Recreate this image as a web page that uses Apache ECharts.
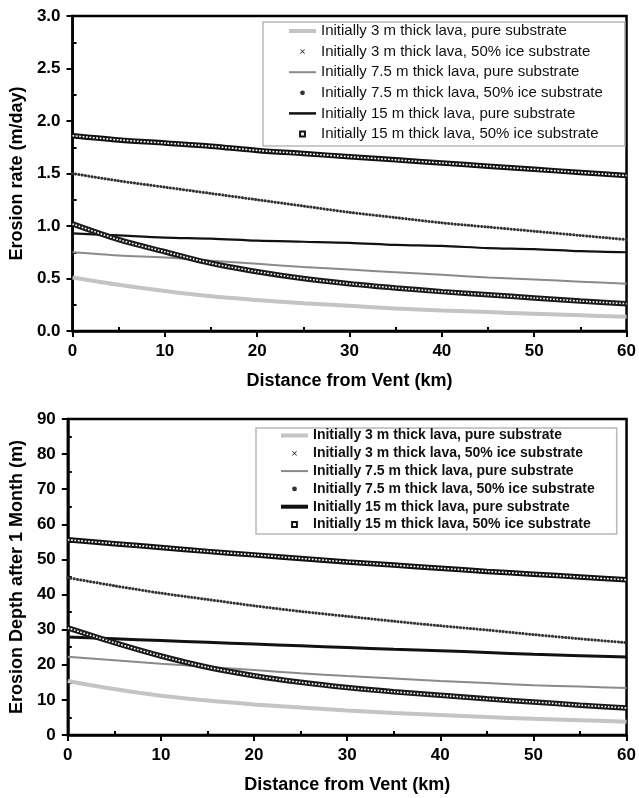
<!DOCTYPE html>
<html>
<head>
<meta charset="utf-8">
<script src="https://cdn.jsdelivr.net/npm/echarts@6/dist/echarts.min.js"></script>
<style>
    html, body { margin: 0; padding: 0; background: #fff; }
    #main { width: 639px; height: 798px; }
</style>
</head>
<body>
<div id="main"></div>
<script>
// ---- data ----
var distance = [0, 5, 10, 15, 20, 25, 30, 35, 40, 45, 50, 55, 60];

var seriesNames = [
    "Initially 3 m thick lava, pure substrate",
    "Initially 3 m thick lava, 50% ice substrate",
    "Initially 7.5 m thick lava, pure substrate",
    "Initially 7.5 m thick lava, 50% ice substrate",
    "Initially 15 m thick lava, pure substrate",
    "Initially 15 m thick lava, 50% ice substrate"
];

// erosion rate (m/day)
var rate3Pure = [0.51, 0.44, 0.38, 0.33, 0.295, 0.265, 0.24, 0.215, 0.195, 0.18, 0.165, 0.15, 0.135];
var rate3Ice = [1.02, 0.87, 0.755, 0.645, 0.565, 0.50, 0.45, 0.41, 0.375, 0.345, 0.315, 0.285, 0.26];
var rate75Pure = [0.75, 0.72, 0.70, 0.67, 0.64, 0.61, 0.585, 0.56, 0.535, 0.51, 0.49, 0.47, 0.45];
var rate75Ice = [1.50, 1.43, 1.37, 1.31, 1.25, 1.19, 1.13, 1.08, 1.03, 0.99, 0.95, 0.91, 0.87];
var rate15Pure = [0.93, 0.91, 0.89, 0.88, 0.86, 0.85, 0.84, 0.82, 0.81, 0.79, 0.78, 0.76, 0.75];
var rate15Ice = [1.86, 1.82, 1.79, 1.76, 1.72, 1.69, 1.66, 1.63, 1.60, 1.57, 1.54, 1.51, 1.48];

// erosion depth after 1 month (m)
var depth3Pure = [15.4, 13.1, 11.2, 9.8, 8.7, 7.8, 7.0, 6.3, 5.7, 5.1, 4.6, 4.2, 3.8];
var depth3Ice = [30.5, 26.3, 22.5, 19.3, 16.9, 15.0, 13.5, 12.3, 11.3, 10.3, 9.4, 8.5, 7.7];
var depth75Pure = [22.3, 21.3, 20.3, 19.4, 18.5, 17.6, 16.8, 16.1, 15.4, 14.8, 14.2, 13.8, 13.4];
var depth75Ice = [44.8, 42.5, 40.4, 38.6, 36.8, 35.2, 33.8, 32.4, 31.1, 29.9, 28.6, 27.4, 26.3];
var depth15Pure = [27.9, 27.4, 26.9, 26.4, 25.9, 25.4, 24.9, 24.4, 24.0, 23.5, 23.0, 22.6, 22.2];
var depth15Ice = [55.6, 54.5, 53.4, 52.3, 51.3, 50.3, 49.3, 48.4, 47.5, 46.6, 45.8, 45.0, 44.2];

var xTicks = { min: 0, max: 60, interval: 10 };

// ---------------------------------------------------------
var FONT = "'Liberation Sans', Arial, Helvetica, sans-serif";
var crossIcon = "path://M0,1L1,0L5,4L9,0L10,1L6,5L10,9L9,10L5,6L1,10L0,9L4,5Z";

function pts(arr) {
    return distance.map(function (d, i) { return [d, arr[i]]; });
}

// 6 curves + white overlays that make the marker chains
function buildSeries(g, vals, blackWidth) {
    var base = { type: "line", xAxisIndex: g, yAxisIndex: g, smooth: 0.3, showSymbol: false, silent: true, animation: false };
    function s(extra) { return Object.assign({}, base, extra); }
    return [
        s({ name: seriesNames[0], data: pts(vals[0]), color: "#c4c4c4", lineStyle: { width: 4, color: "#c4c4c4" } }),
        s({ name: seriesNames[2], data: pts(vals[2]), color: "#8a8a8a", lineStyle: { width: 2, color: "#8a8a8a" } }),
        s({ name: seriesNames[4], data: pts(vals[4]), color: "#111", lineStyle: { width: blackWidth, color: "#111" } }),
        s({ name: seriesNames[1], data: pts(vals[1]), symbol: crossIcon, color: "#1a1a1a", lineStyle: { width: 5.5, color: "#1a1a1a" } }),
        s({ data: pts(vals[1]), lineStyle: { width: 1.6, color: "#fff", type: [1.6, 1.7] } }),
        s({ name: seriesNames[3], data: pts(vals[3]), symbol: "circle", color: "#333", lineStyle: { width: 3, color: "#333", type: [0.1, 3.2], cap: "round" } }),
        s({ name: seriesNames[5], data: pts(vals[5]), symbol: "emptyRect", color: "#111", lineStyle: { width: 5.5, color: "#111" } }),
        s({ data: pts(vals[5]), lineStyle: { width: 1.6, color: "#fff", type: [1.8, 1.6] } })
    ];
}

function xAxisCfg(g) {
    return {
        type: "value", gridIndex: g, min: xTicks.min, max: xTicks.max, interval: xTicks.interval,
        name: "Distance from Vent (km)", nameLocation: "middle", nameGap: 41,
        nameTextStyle: { fontSize: 18, fontWeight: "bold", color: "#000", fontFamily: FONT },
        axisLine: { show: true, lineStyle: { color: "#000", width: 2.5 } },
        axisTick: { show: true, length: 6, lineStyle: { color: "#000", width: 2 } },
        minorTick: { show: true, splitNumber: 2, length: -4, lineStyle: { color: "#000", width: 2 } },
        splitLine: { show: false },
        axisLabel: { color: "#000", fontSize: 17, fontWeight: "bold", margin: 12, fontFamily: FONT }
    };
}

function yAxisCfg(g, min, max, interval, name, gap, digits) {
    return {
        type: "value", gridIndex: g, min: min, max: max, interval: interval,
        name: name, nameLocation: "middle", nameGap: gap,
        nameTextStyle: { fontSize: 18, fontWeight: "bold", color: "#000", fontFamily: FONT },
        axisLine: { show: true, lineStyle: { color: "#000", width: 2.5 } },
        axisTick: { show: true, length: 6, lineStyle: { color: "#000", width: 2 } },
        minorTick: { show: true, splitNumber: 2, length: -4, lineStyle: { color: "#000", width: 2 } },
        splitLine: { show: false },
        axisLabel: {
            color: "#000", fontSize: 17, fontWeight: "bold", margin: 12, fontFamily: FONT,
            formatter: function (v) { return v.toFixed(digits); }
        }
    };
}

function legendCfg(left, top, fontSize, weight, lineH, gap, padding, blackWidth) {
    return {
        orient: "vertical", left: left, top: top, padding: padding,
        itemWidth: 27, itemHeight: 6, itemGap: gap,
        backgroundColor: "#fff", borderColor: "#b8b8b8", borderWidth: 1.5, borderRadius: 0,
        textStyle: { fontSize: fontSize, fontWeight: weight, color: "#111", fontFamily: FONT, lineHeight: lineH },
        selectedMode: false,
        data: [
            { name: seriesNames[0], itemStyle: { opacity: 0 }, lineStyle: { width: 4 } },
            { name: seriesNames[1], lineStyle: { opacity: 0 } },
            { name: seriesNames[2], itemStyle: { opacity: 0 } },
            { name: seriesNames[3], lineStyle: { opacity: 0 } },
            { name: seriesNames[4], itemStyle: { opacity: 0 }, lineStyle: { width: blackWidth } },
            { name: seriesNames[5], lineStyle: { opacity: 0 } }
        ]
    };
}

var chart = echarts.init(document.getElementById("main"), null, { renderer: "canvas" });
var option = {
    backgroundColor: "#fff",
    animation: false,
    grid: [
        { left: 71, right: 11, top: 16, height: 315, show: true, borderColor: "#000", borderWidth: 2.5 },
        { left: 66, right: 10, top: 419, height: 316, show: true, borderColor: "#000", borderWidth: 2.5 }
    ],
    xAxis: [xAxisCfg(0), xAxisCfg(1)],
    yAxis: [
        yAxisCfg(0, 0, 3, 0.5, "Erosion rate (m/day)", 45, 1),
        yAxisCfg(1, 0, 90, 10, "Erosion Depth after 1 Month (m)", 40, 0)
    ],
    legend: [
        legendCfg(263, 22, 15, "normal", 16, 4.6, [1, 22, 4, 24], 2.5),
        legendCfg(256, 428, 14, "bold", 15, 2.8, [0, 22, 2, 23], 4)
    ],
    series: buildSeries(0, [rate3Pure, rate3Ice, rate75Pure, rate75Ice, rate15Pure, rate15Ice], 2.2)
        .concat(buildSeries(1, [depth3Pure, depth3Ice, depth75Pure, depth75Ice, depth15Pure, depth15Ice], 3))
};
chart.setOption(option);
window.addEventListener("resize", function () {
    chart.resize();
});
</script>
</body>
</html>
